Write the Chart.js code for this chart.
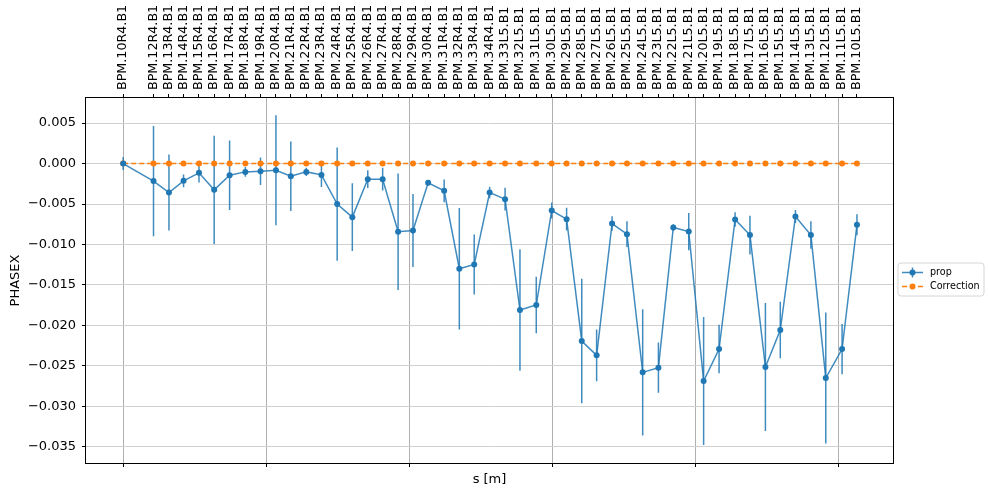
<!DOCTYPE html>
<html>
<head>
<meta charset="utf-8">
<script src="https://cdn.jsdelivr.net/npm/chart.js@4.4.1/dist/chart.umd.min.js"></script>
<style>
  html, body { margin: 0; padding: 0; background: #fff; }
  #wrap { width: 988px; height: 492px; }
</style>
</head>
<body>
<div id="wrap"><canvas id="myChart" width="988" height="492"></canvas></div>
<script>
// BPM names along the top axis
var bpmNames = [
  "BPM.10R4.B1", "BPM.12R4.B1", "BPM.13R4.B1", "BPM.14R4.B1", "BPM.15R4.B1", "BPM.16R4.B1",
  "BPM.17R4.B1", "BPM.18R4.B1", "BPM.19R4.B1", "BPM.20R4.B1", "BPM.21R4.B1", "BPM.22R4.B1",
  "BPM.23R4.B1", "BPM.24R4.B1", "BPM.25R4.B1", "BPM.26R4.B1", "BPM.27R4.B1", "BPM.28R4.B1",
  "BPM.29R4.B1", "BPM.30R4.B1", "BPM.31R4.B1", "BPM.32R4.B1", "BPM.33R4.B1", "BPM.34R4.B1",
  "BPM.33L5.B1", "BPM.32L5.B1", "BPM.31L5.B1", "BPM.30L5.B1", "BPM.29L5.B1", "BPM.28L5.B1",
  "BPM.27L5.B1", "BPM.26L5.B1", "BPM.25L5.B1", "BPM.24L5.B1", "BPM.23L5.B1", "BPM.22L5.B1",
  "BPM.21L5.B1", "BPM.20L5.B1", "BPM.19L5.B1", "BPM.18L5.B1", "BPM.17L5.B1", "BPM.16L5.B1",
  "BPM.15L5.B1", "BPM.14L5.B1", "BPM.13L5.B1", "BPM.12L5.B1", "BPM.11L5.B1", "BPM.10L5.B1"
];

// longitudinal position of each BPM (m)
var sPos = [
  0, 106, 160, 211, 265, 318, 372, 427, 480, 534, 586, 640,
  693, 748, 801, 855, 907, 961, 1013, 1066, 1122, 1175, 1227, 1281,
  1335, 1387, 1444, 1498, 1550, 1603, 1655, 1709, 1761, 1816, 1871, 1923,
  1977, 2029, 2083, 2139, 2191, 2245, 2297, 2350, 2404, 2456, 2513, 2565
];

// "prop" series and its error bars
var propVals = [
  0, -0.00217, -0.00358, -0.00214, -0.00115, -0.00325, -0.00144, -0.00103, -0.00094, -0.00082, -0.00156, -0.00103,
  -0.0014, -0.00501, -0.00662, -0.00193, -0.00193, -0.00843, -0.00827, -0.00238, -0.00337, -0.013, -0.01247, -0.00358,
  -0.0044, -0.0181, -0.01748, -0.0058, -0.00687, -0.02193, -0.0237, -0.00741, -0.00872, -0.0258, -0.02522, -0.0079,
  -0.0084, -0.02687, -0.02292, -0.00691, -0.00884, -0.02514, -0.02057, -0.00654, -0.00884, -0.0265, -0.02292, -0.00757
];
var propErr = [
  0.0008, 0.0068, 0.0047, 0.0008, 0.0012, 0.0067, 0.0043, 0.0006, 0.0017, 0.0068, 0.0043, 0.0005,
  0.0015, 0.007, 0.0042, 0.0011, 0.0014, 0.0072, 0.0045, 0.0003, 0.0014, 0.0075, 0.0037, 0.0007,
  0.0014, 0.0075, 0.0035, 0.001, 0.0014, 0.0077, 0.0032, 0.0009, 0.0016, 0.0078, 0.0031, 0.0004,
  0.0023, 0.0079, 0.003, 0.0009, 0.0024, 0.0079, 0.0035, 0.0008, 0.0017, 0.0081, 0.0031, 0.0013
];

// "Correction" series
var corrVals = [
  0, 0, 0, 0, 0, 0, 0, 0, 0, 0, 0, 0,
  0, 0, 0, 0, 0, 0, 0, 0, 0, 0, 0, 0,
  0, 0, 0, 0, 0, 0, 0, 0, 0, 0, 0, 0,
  0, 0, 0, 0, 0, 0, 0, 0, 0, 0, 0, 0
];

// axis ticks
var sTicks = [0, 500, 1000, 1500, 2000, 2500];
var yTicks = [-0.035, -0.03, -0.025, -0.02, -0.015, -0.01, -0.005, 0, 0.005];

var blue = '#1f77b4';
var blueLine = 'rgba(31,119,180,0.85)';
var orange = '#ff7f0e';

Chart.defaults.font.family = "'DejaVu Sans', sans-serif";
Chart.defaults.font.size = 13;
Chart.defaults.color = '#000';

function pairs(xs, ys) {
  var out = [];
  for (var i = 0; i < xs.length; i++) out.push({ x: xs[i], y: ys[i] });
  return out;
}

// vertical error bars for the prop series
var errorBars = {
  id: 'errorBars',
  beforeDatasetsDraw: function (chart) {
    var ctx = chart.ctx, x = chart.scales.x, y = chart.scales.y;
    ctx.save();
    ctx.strokeStyle = blueLine;
    ctx.lineWidth = 1.5;
    ctx.beginPath();
    for (var i = 0; i < sPos.length; i++) {
      var px = x.getPixelForValue(sPos[i]);
      ctx.moveTo(px, y.getPixelForValue(propVals[i] + propErr[i]));
      ctx.lineTo(px, y.getPixelForValue(propVals[i] - propErr[i]));
    }
    ctx.stroke();
    ctx.restore();
  }
};

// black box round the plot plus the matplotlib style legend
var frameAndLegend = {
  id: 'frameAndLegend',
  afterDraw: function (chart) {
    var ctx = chart.ctx, a = chart.chartArea;
    var L = Math.round(a.left), T = Math.round(a.top), R = Math.round(a.right), B = Math.round(a.bottom);
    ctx.save();
    ctx.fillStyle = '#000';
    ctx.fillRect(L - 1, T - 1, R - L + 2, 1);
    ctx.fillRect(L - 1, B, R - L + 2, 1);
    ctx.fillRect(L - 1, T - 1, 1, B - T + 2);
    ctx.fillRect(R, T - 1, 1, B - T + 2);

    // legend
    var lx = a.right + 5, ly = 263, lw = 86, lh = 33, r = 3;
    ctx.fillStyle = 'rgba(255,255,255,0.8)';
    ctx.strokeStyle = '#d6d6d6';
    ctx.lineWidth = 1;
    ctx.beginPath();
    ctx.moveTo(lx + r, ly);
    ctx.arcTo(lx + lw, ly, lx + lw, ly + lh, r);
    ctx.arcTo(lx + lw, ly + lh, lx, ly + lh, r);
    ctx.arcTo(lx, ly + lh, lx, ly, r);
    ctx.arcTo(lx, ly, lx + lw, ly, r);
    ctx.closePath();
    ctx.fill();
    ctx.stroke();

    var hx0 = lx + 4, hx1 = lx + 25, hm = (hx0 + hx1) / 2;
    var row1 = ly + 9.5, row2 = ly + 23.5;
    // prop handle
    ctx.strokeStyle = blueLine;
    ctx.lineWidth = 1.5;
    ctx.beginPath();
    ctx.moveTo(hx0, row1); ctx.lineTo(hx1, row1);
    ctx.moveTo(hm, row1 - 5); ctx.lineTo(hm, row1 + 5);
    ctx.stroke();
    ctx.fillStyle = blue;
    ctx.beginPath(); ctx.arc(hm, row1, 3, 0, Math.PI * 2); ctx.fill();
    // correction handle
    ctx.strokeStyle = orange;
    ctx.setLineDash([5, 3]);
    ctx.beginPath();
    ctx.moveTo(hx0, row2); ctx.lineTo(hx1, row2);
    ctx.stroke();
    ctx.setLineDash([]);
    ctx.fillStyle = orange;
    ctx.beginPath(); ctx.arc(hm, row2, 3, 0, Math.PI * 2); ctx.fill();

    ctx.fillStyle = '#000';
    ctx.font = "9.6px 'DejaVu Sans', sans-serif";
    ctx.textBaseline = 'middle';
    ctx.textAlign = 'left';
    ctx.fillText('prop', lx + 32, row1);
    ctx.fillText('Correction', lx + 32, row2);
    ctx.restore();
  }
};

var canvas = document.getElementById('myChart');
var sMin = -130, sMax = 2691;

new Chart(canvas, {
  type: 'line',
  data: {
    datasets: [
      {
        label: 'prop',
        data: pairs(sPos, propVals),
        xAxisID: 'x', yAxisID: 'y',
        borderColor: blueLine,
        borderWidth: 1.5,
        pointRadius: 3,
        pointBorderWidth: 0,
        pointBackgroundColor: blue,
        tension: 0
      },
      {
        label: 'Correction',
        data: pairs(sPos, corrVals),
        xAxisID: 'x', yAxisID: 'y',
        borderColor: orange,
        borderWidth: 1.5,
        borderDash: [5, 3],
        pointRadius: 3,
        pointBorderWidth: 0,
        pointBackgroundColor: orange,
        tension: 0
      }
    ]
  },
  options: {
    responsive: false,
    animation: false,
    layout: { padding: { left: 0, top: 0, bottom: 0, right: 95 } },
    plugins: { legend: { display: false }, tooltip: { enabled: false } },
    scales: {
      x: {
        type: 'linear', position: 'bottom', min: sMin, max: sMax,
        afterBuildTicks: function (s) { s.ticks = sTicks.map(function (v) { return { value: v }; }); },
        ticks: { display: false },
        grid: { color: '#b0b0b0', lineWidth: 1, tickColor: '#000', tickLength: 4 },
        border: { display: false },
        title: { display: true, text: 's [m]', font: { size: 13 }, padding: { top: 0, bottom: 5 } },
        afterFit: function (s) { s.height = 29; }
      },
      x2: {
        type: 'linear', position: 'top', min: sMin, max: sMax,
        afterBuildTicks: function (s) { s.ticks = sPos.map(function (v) { return { value: v }; }); },
        ticks: {
          autoSkip: false, minRotation: 90, maxRotation: 90, padding: 4,
          labelOffset: 15,
          font: { size: 12.7 },
          callback: function (v, i) { return bpmNames[i]; }
        },
        grid: { drawOnChartArea: false, tickColor: '#000', tickLength: 4 },
        border: { display: false },
        afterFit: function (s) { s.height = 98; }
      },
      y: {
        type: 'linear', position: 'left', min: -0.0370, max: 0.0081,
        afterBuildTicks: function (s) { s.ticks = yTicks.map(function (v) { return { value: v }; }); },
        ticks: {
          padding: 6,
          callback: function (v) { return v.toFixed(3).replace('-', '\u2212'); }
        },
        grid: { color: '#d0d0d0', lineWidth: 1, tickColor: '#000', tickLength: 4 },
        border: { display: false },
        title: { display: true, text: 'PHASEX', font: { size: 13 }, padding: { top: 8, bottom: 0 } },
        afterFit: function (s) { s.width = 86; }
      }
    }
  },
  plugins: [errorBars, frameAndLegend]
});
</script>
</body>
</html>
